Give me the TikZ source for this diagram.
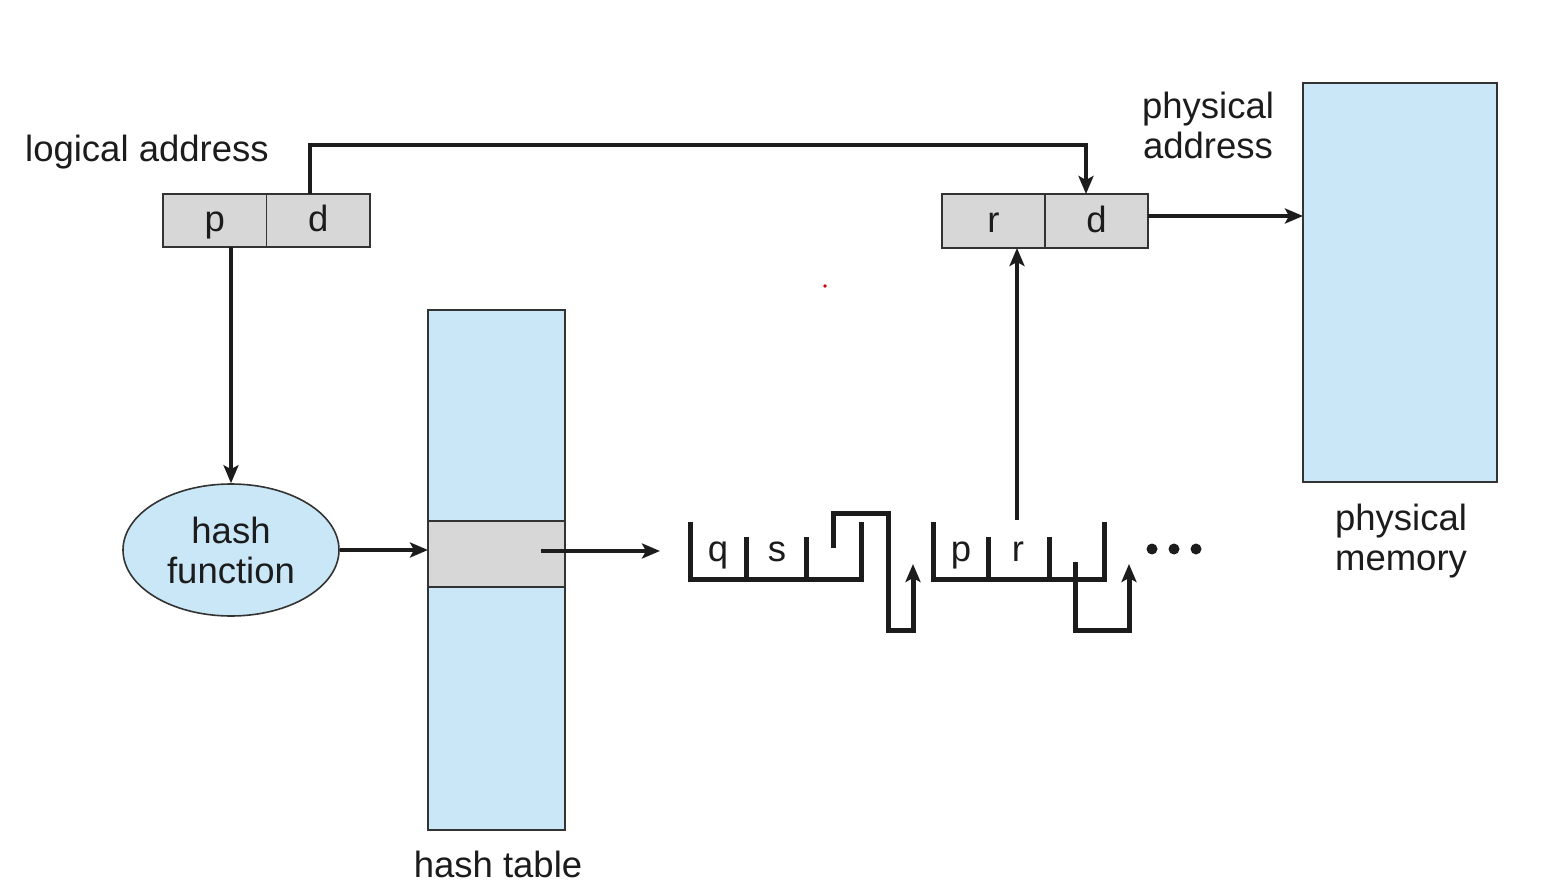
\documentclass[tikz,border=0pt]{standalone}
\usepackage{fontspec}
\setmainfont{Liberation Sans}
\usetikzlibrary{arrows.meta,shapes.geometric}
\definecolor{memblue}{HTML}{C9E7F7}
\definecolor{cellgrey}{HTML}{D7D7D7}
\definecolor{inkc}{HTML}{1C1C1C}
\definecolor{edgec}{HTML}{333333}
\begin{document}
\begin{tikzpicture}[x=1pt,y=-1pt,
  conn/.style={line width=4.4pt, draw=inkc, -{Stealth[length=18pt,width=15pt,inset=4pt]}},
  chain/.style={line width=5pt, draw=inkc},
  chainarrow/.style={chain, -{Stealth[length=18pt,width=15pt,inset=4pt]}},
  field/.style={draw=edgec, line width=1.6pt, fill=cellgrey, minimum width=103.5pt, minimum height=53pt,
    inner sep=0pt, outer sep=0pt, text height=28pt, text depth=6pt, text=inkc,
    font=\fontsize{36.5}{40}\selectfont},
  blk/.style={draw=edgec, line width=1.6pt, fill=memblue, inner sep=0pt, outer sep=0pt},
  lbl/.style={font=\fontsize{36.5}{40}\selectfont, text=inkc, align=center, inner sep=0pt},
  cell/.style={font=\fontsize{36.5}{40}\selectfont, text=inkc, inner sep=0pt, anchor=base}
]
\useasboundingbox (0,0) rectangle (1548,888);

% logical address fields
\node[field] (lp) at (214.75,220.5) {p};
\node[field] (ld) at (318.25,220.5) {d};
% physical address fields
\node[field, minimum height=54pt] (rr) at (993.5,221) {r};
\node[field, minimum height=54pt] (rd) at (1096.5,221) {d};

% physical memory
\node[blk, minimum width=194pt, minimum height=399pt] (pm) at (1400,282.5) {};
% hash table
\node[blk, minimum width=137pt, minimum height=520pt] (ht) at (496.5,570) {};
\node[draw=edgec, line width=1.6pt, fill=cellgrey, minimum width=137pt, minimum height=66pt, inner sep=0pt, outer sep=0pt] (hc) at (496.5,554) {};
% hash function
\node[ellipse, draw=edgec, line width=1.6pt, fill=memblue, minimum width=216pt, minimum height=132pt,
  inner sep=0pt, lbl] (hf) at (231,550) {hash\\function};

% labels (base anchor = baseline of last line)
\node[lbl, anchor=base west] (lla) at (25,162) {logical address};
\node[lbl, anchor=base] (lpa) at (1208,159) {physical\\address};
\node[lbl, anchor=base] (lpm) at (1401,570) {physical\\memory};
\node[lbl, anchor=base] (lht) at (498,877) {hash table};

% connectors
\draw[conn] (hf.north |- lp.south) -- (hf.north);
\draw[conn] ([xshift=-8pt]ld.north) -- ++(0,-49) -| ([xshift=-10.5pt]rd.north);
\draw[conn] ([yshift=5pt]rd.east) -- ([yshift=5pt]rd.east -| pm.west);
\draw[conn] (hf.east) -- (hf.east -| ht.west);
\coordinate (hs) at (541,551);
\coordinate (he) at (660,551);
\draw[conn] (hs) -- (he);

% chain element 1
\draw[chain] (690,522) -- (690,579) -- (861,579) -- (861,522);
\draw[chain] (746,537) -- (746,579);
\draw[chain] (806,537) -- (806,579);
\node[cell] (q1) at (718,561) {q};
\node[cell] (s1) at (777,561) {s};
\draw[chainarrow] (833,548) -- (833,513) -- (888,513) -- (888,630) -- (913,630) -- (913,564);

% chain element 2
\draw[chain] (933,522) -- (933,579) -- (1104,579) -- (1104,522);
\draw[chain] (988,537) -- (988,579);
\draw[chain] (1049,537) -- (1049,579);
\node[cell] (p2) at (961,561) {p};
\node[cell] (r2) at (1018,561) {r};
\draw[chainarrow] (1075,562) -- (1075,630) -- (1129,630) -- (1129,564);

% pointer from r field to physical address
\coordinate (rp) at (1017,520);
\draw[conn] (rp) -- (rp |- rr.south);

% ellipsis dots
\fill[inkc] (1152,549) circle (5.5pt) (1174,549) circle (5.5pt) (1196,549) circle (5.5pt);

% stray red mark
\fill[red!80!black] (825,286) circle (1.8pt);
\end{tikzpicture}
\end{document}
